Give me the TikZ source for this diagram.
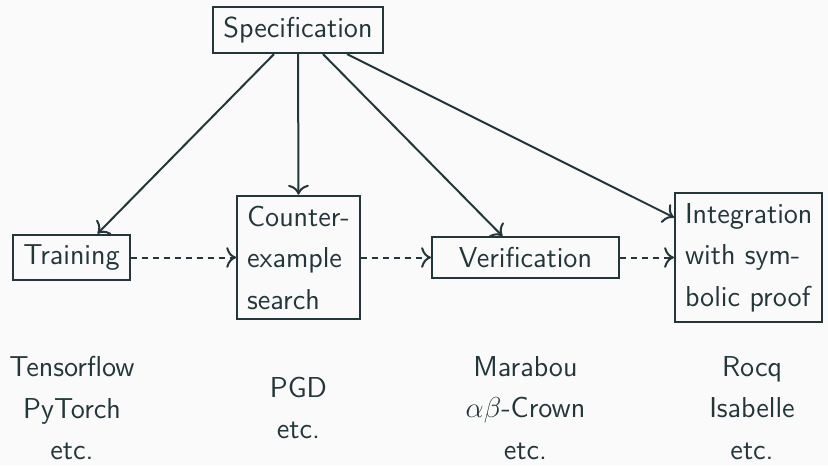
\documentclass[tikz,border=0pt]{standalone}
\usepackage{fontspec}
\usetikzlibrary{arrows.meta}
\definecolor{mdark}{HTML}{23373B}
\definecolor{bgc}{HTML}{FAFAFA}
\begin{document}
\begin{tikzpicture}[x=0.5pt,y=-0.5pt,
  every node/.style={font=\sffamily\fontsize{14.4}{20.75}\selectfont, text=mdark},
  box/.style={draw=mdark, line width=1pt, inner sep=5pt},
  arr/.style={-{To[scale=1.3]}, draw=mdark, line width=1pt},
  darr/.style={arr, dash pattern=on 3pt off 2.5pt}]
\fill[bgc] (0,0) rectangle (828,465);
\useasboundingbox (0,0) rectangle (828,465);
\node[box] (spec) at (298,30) {Specification};
\node[box] (train) at (71.5,257.5) {Training};
\node[box, align=left] (ce) at (298.5,257.5) {Counter-\\example\\search};
\node[box, minimum width=93.5pt] (ver) at (525.5,257.5) {Verification};
\node[box, align=left, anchor=west] (int) at (674,257.5) {Integration\\with sym-\\bolic proof};
\node[align=center] (l1) at (72,408) {Tensorflow\\PyTorch\\etc.};
\node[align=center] (l2) at (298.5,408) {PGD\\etc.};
\node[align=center] (l3) at (525.5,408) {Marabou\\$\alpha\beta$-Crown\\etc.};
\node[align=center] (l4) at (752,408) {Rocq\\Isabelle\\etc.};
\draw[arr] ([xshift=-12pt]spec.south) -- ([xshift=13pt]train.north);
\draw[arr] (spec.south) -- (ce.north);
\draw[arr] ([xshift=12.5pt]spec.south) -- ([xshift=-11.5pt]ver.north);
\draw[arr] ([xshift=24.5pt]spec.south) -- ([yshift=20pt]int.west);
\draw[darr] (train.east) -- (ce.west);
\draw[darr] (ce.east) -- (ver.west);
\draw[darr] (ver.east) -- (int.west);
\end{tikzpicture}
\end{document}
